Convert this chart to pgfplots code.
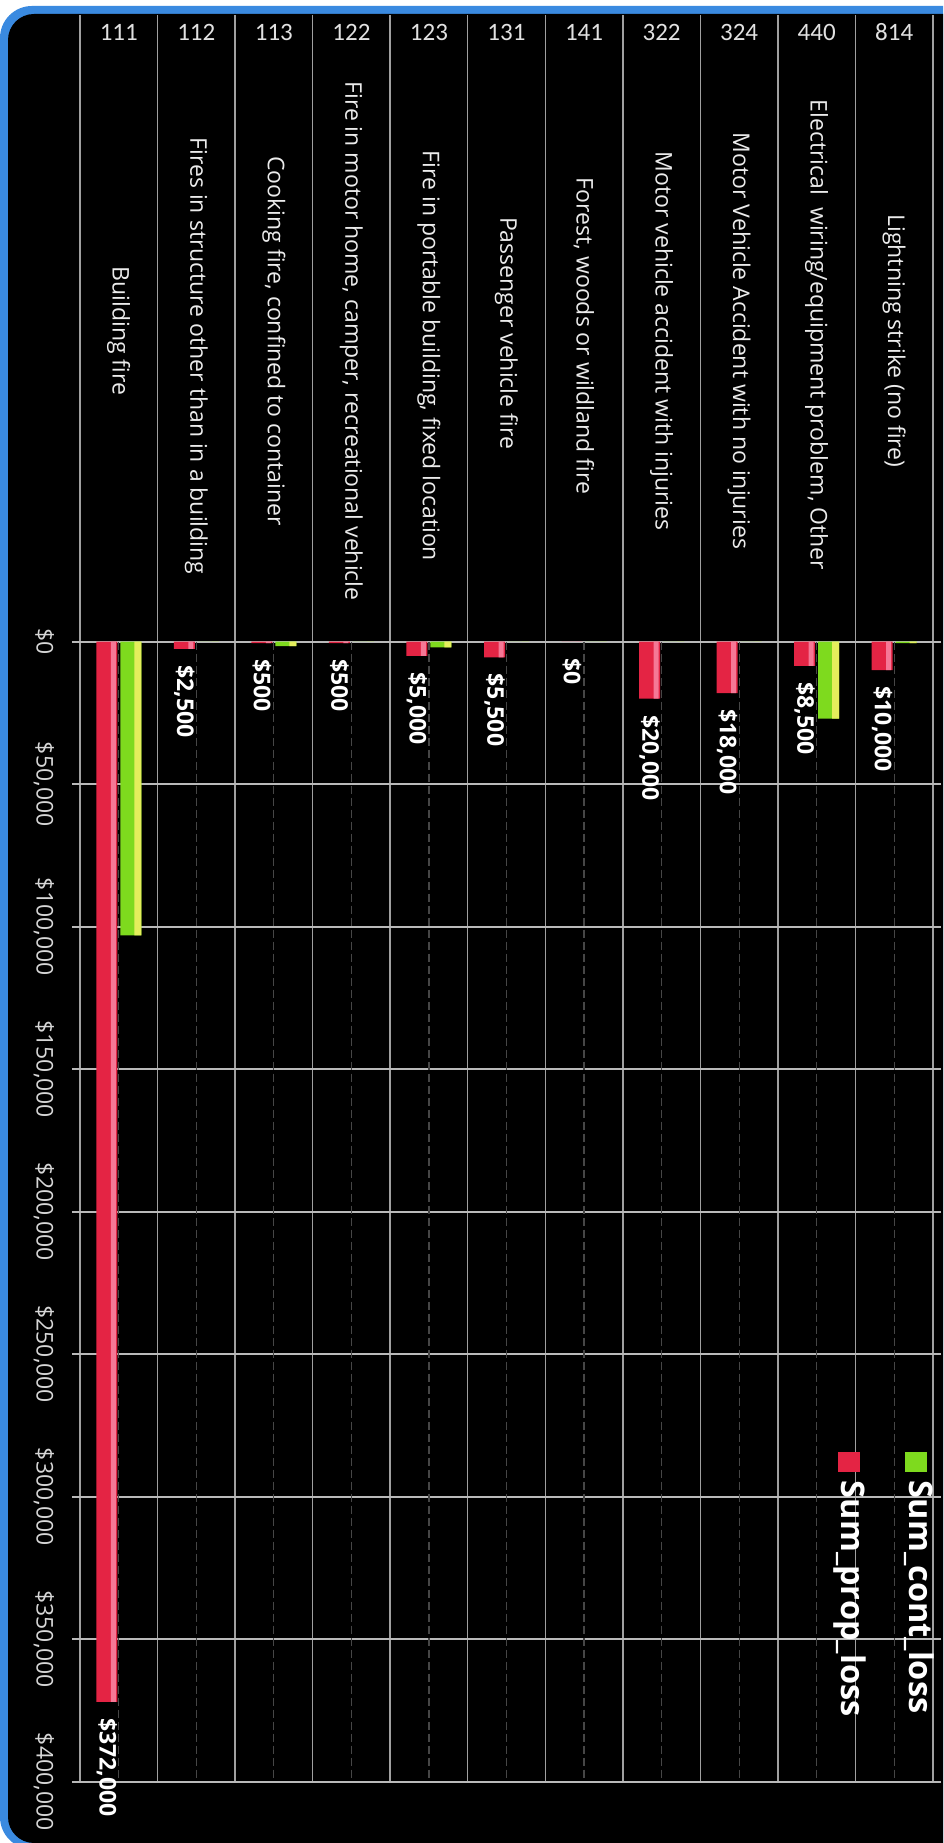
\documentclass[border=0pt]{standalone}
\usepackage{pgfplots}
\pgfplotsset{compat=1.18}
\usepackage{fontspec}
\setmainfont{Open Sans}
\newfontfamily\codefont{Carlito}
\definecolor{borderblue}{RGB}{58,138,224}
\definecolor{gridgray}{RGB}{185,185,185}
\definecolor{sepgray}{RGB}{160,160,160}
\definecolor{dimgrayB}{RGB}{70,70,70}
\definecolor{tickgray}{RGB}{215,215,215}
\definecolor{codegray}{RGB}{225,225,225}
\definecolor{desc}{RGB}{235,235,235}
\definecolor{redA}{RGB}{228,36,68}
\definecolor{redB}{RGB}{245,120,150}
\definecolor{greenA}{RGB}{126,218,30}
\definecolor{greenB}{RGB}{228,238,92}
\begin{document}
\begin{tikzpicture}
\path[use as bounding box] (0,0) rectangle (471.5pt,921.5pt);
\begin{scope}
\clip (0,0) rectangle (471.5pt,921.5pt);
\fill[white] (0,0) rectangle (471.5pt,921.5pt);
\fill[borderblue, rounded corners=16pt] (0,-3pt) rectangle (500pt,918.5pt);
\fill[black, rounded corners=13pt] (4pt,0pt) rectangle (500pt,914.5pt);
\end{scope}
\begin{axis}[
 at={(253.25pt,472.325pt)}, anchor=center,
 scale only axis, width=426.5pt, height=883.35pt,
 xmin=-0.5, xmax=10.5, ymin=-219900, ymax=400000,
 y dir=reverse,
 axis line style={draw=none},
 clip=false,
 ybar=0pt, bar width=10.5pt,
 xtick={0,...,10},
 xticklabels={111,112,113,122,123,131,141,322,324,440,814},
 xticklabel pos=right,
 xticklabel style={font=\codefont\fontsize{12.5}{14}\selectfont, text=codegray, anchor=center, yshift=-12.75pt},
 xtick style={draw=none},
 minor xtick={-0.5,0.5,...,10.5},
 xminorgrids,
 minor x grid style={sepgray, line width=0.75pt},
 minor tick length=0pt,
 ytick={0,50000,...,400000},
 yticklabels={\$0,{\$50,000},{\$100,000},{\$150,000},{\$200,000},{\$250,000},{\$300,000},{\$350,000},{\$400,000}},
 ymajorgrids,
 major grid style={gridgray, line width=1pt},
 ytick align=outside,
 ytick style={gridgray, line width=1pt},
 major tick length=4pt,
 yticklabel style={xshift=-8.75pt, rotate=-90, anchor=north, inner sep=0pt, font=\fontsize{11.5}{13}\selectfont, text=tickgray},
 extra x ticks={0,...,10},
 extra x tick labels={{Building fire\hspace*{10pt}},{\hspace*{15pt}Fires in structure other than in a building},{Cooking fire, confined to container},{Fire in motor home, camper, recreational vehicle},{\hspace*{15pt}Fire in portable building, fixed location},{Passenger vehicle fire\hspace*{8pt}},{Forest, woods or wildland fire\hspace*{5pt}},{Motor vehicle accident with injuries},{Motor Vehicle Accident with no injuries},{Electrical\ \ wiring/equipment problem, Other\hspace*{6pt}},{Lightning strike (no fire)}},
 extra x tick style={grid=none, every x tick label/.style={yshift=-167pt, rotate=-90, anchor=center, font=\fontsize{11.5}{13}\selectfont, text=desc}},
 legend columns=2,
 legend style={at={(axis cs:8.974,294140)}, anchor=north west, draw=none, fill=none, inner sep=0pt, column sep=9.375pt,
   nodes={rotate=-90, anchor=west, inner sep=0pt, text height=11pt, text depth=4pt, text=white, font=\bfseries\fontsize{16.25}{19}\selectfont}},
]
\pgfplotsinvokeforeach{0,...,10}{\draw[dimgrayB, line width=0.6pt, dash pattern=on 4pt off 2pt] (axis cs:#1,0) -- (axis cs:#1,400000);}
% Sum_prop_loss (red)
\addplot[draw=none, fill=redA, bar shift=-6pt,
  legend image code/.code={\path (0,0); \fill[redA, overlay] (11.375pt,4pt) rectangle (22.375pt,14pt);},
  nodes near coords, point meta=explicit symbolic,
  nodes near coords style={rotate=-90, anchor=west, inner xsep=8pt, inner ysep=0pt, font=\bfseries\fontsize{11.5}{13}\selectfont, text=white}]
 coordinates {(0,372000) [\$372,000] (1,2500) [\$2,500] (2,500) [\$500] (3,500) [\$500] (4,5000) [\$5,000] (5,5500) [\$5,500] (6,0) [\$0] (7,20000) [\$20,000] (8,18000) [\$18,000] (9,8500) [\$8,500] (10,10000) [\$10,000]};
% Sum_cont_loss (green)
\addplot[draw=none, fill=greenA, bar shift=6pt,
  legend image code/.code={\path (0,0); \fill[greenA, overlay] (11.375pt,4pt) rectangle (22.375pt,14pt);}]
 coordinates {(0,103000) (1,0) (2,1500) (3,0) (4,2000) (5,0) (6,0) (7,0) (8,0) (9,27000) (10,500)};
% highlights (same data)
\addplot[forget plot, draw=none, fill=redB, bar shift=-2.75pt, bar width=2.5pt]
 coordinates {(0,372000) (1,2500) (2,500) (3,500) (4,5000) (5,5500) (6,0) (7,20000) (8,18000) (9,8500) (10,10000)};
\addplot[forget plot, draw=none, fill=greenB, bar shift=9.5pt, bar width=3.5pt]
 coordinates {(0,103000) (1,0) (2,1500) (3,0) (4,2000) (5,0) (6,0) (7,0) (8,0) (9,27000) (10,500)};
\legend{Sum\_prop\_loss, Sum\_cont\_loss}
\end{axis}
\end{tikzpicture}
\end{document}
